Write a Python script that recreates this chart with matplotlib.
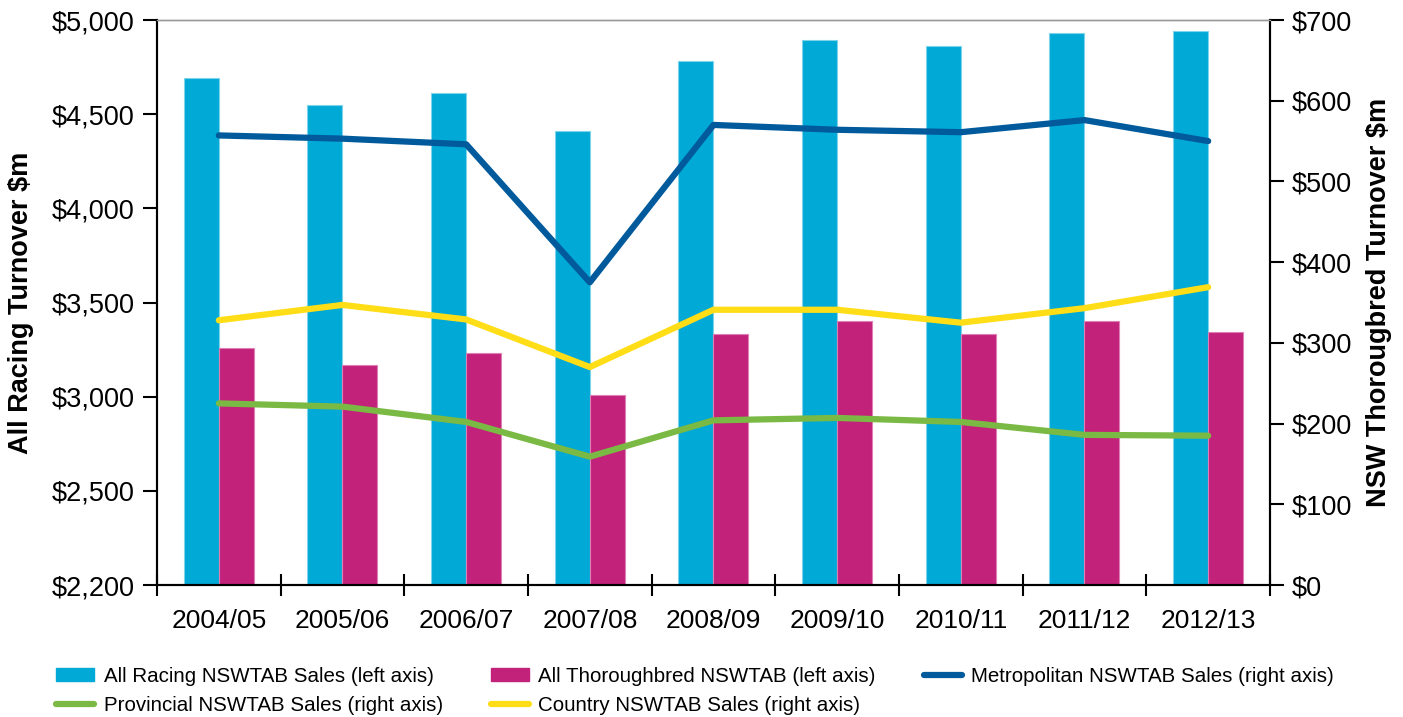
import numpy as np
import matplotlib
matplotlib.use('Agg')
import matplotlib.pyplot as plt
from matplotlib.lines import Line2D
from matplotlib.patches import Patch

plt.rcParams['font.family'] = ['Liberation Sans', 'DejaVu Sans']

# Данные
years = ['2004/05', '2005/06', '2006/07', '2007/08', '2008/09',
         '2009/10', '2010/11', '2011/12', '2012/13']
all_racing = [4690, 4548, 4612, 4410, 4782, 4894, 4862, 4931, 4941]
thoroughbred = [3261, 3170, 3234, 3011, 3335, 3404, 3335, 3404, 3346]
metro = [557, 553, 546, 375, 570, 564, 561, 576, 550]
country = [328, 347, 329, 270, 341, 341, 325, 343, 369]
provincial = [225, 221, 202, 159, 204, 207, 202, 186, 185]

left_ticks = [2000, 2500, 3000, 3500, 4000, 4500, 5000]
left_labels = ['$2,200', '$2,500', '$3,000', '$3,500', '$4,000', '$4,500', '$5,000']
right_ticks = [0, 100, 200, 300, 400, 500, 600, 700]

c_cyan = '#00A9D6'
c_mag = '#C2227A'
c_metro = '#005A9C'
c_green = '#7AB943'
c_yellow = '#FFDD17'

fig = plt.figure(figsize=(14.03, 7.17), dpi=100)
ax = fig.add_axes([0.1119, 0.1841, 0.9052 - 0.1119, 0.9721 - 0.1841])
ax2 = ax.twinx()

x = np.arange(len(years))
w = 0.283
ax.bar(x - w / 2, all_racing, w, color=c_cyan, edgecolor='#7FD3EA', linewidth=0.8)
ax.bar(x + w / 2, thoroughbred, w, color=c_mag, edgecolor='#E07FB5', linewidth=0.8)

lw = 4.5
ax2.plot(x, metro, color=c_metro, lw=lw, solid_capstyle='round')
ax2.plot(x, country, color=c_yellow, lw=lw, solid_capstyle='round')
ax2.plot(x, provincial, color=c_green, lw=lw, solid_capstyle='round')

ax.set_xlim(-0.5, len(years) - 0.5)
ax.set_ylim(2000, 5000)
ax2.set_ylim(0, 700)

ax.set_yticks(left_ticks)
ax.set_yticklabels(left_labels)
ax2.set_yticks(right_ticks)
ax2.set_yticklabels(['$%d' % v for v in right_ticks])

ax.set_xticks(x)
ax.set_xticklabels(years)
ax.set_xticks(np.arange(-0.5, len(years)), minor=True)
ax.tick_params(axis='x', which='major', length=0, labelsize=19, pad=17)
ax.tick_params(axis='x', which='minor', direction='inout', length=16, width=1.5)
ax.tick_params(axis='y', direction='out', length=10, width=1.5, labelsize=19.5, pad=6)
ax2.tick_params(axis='y', direction='out', length=10, width=1.5, labelsize=19.5, pad=6)

for a in (ax, ax2):
    a.spines['top'].set_color('#999999')
    a.spines['top'].set_linewidth(1)
    for s in ('left', 'right', 'bottom'):
        a.spines[s].set_linewidth(1.5)

ax.set_ylabel('All Racing Turnover $m', fontsize=19.5, fontweight='bold', labelpad=13)
ax2.set_ylabel('NSW Thorougbred Turnover $m', fontsize=19.5, fontweight='bold', labelpad=10)

handles = [
    Patch(color=c_cyan, label='All Racing NSWTAB Sales (left axis)'),
    Line2D([], [], color=c_green, lw=lw, solid_capstyle='round', label='Provincial NSWTAB Sales (right axis)'),
    Patch(color=c_mag, label='All Thoroughbred NSWTAB (left axis)'),
    Line2D([], [], color=c_yellow, lw=lw, solid_capstyle='round', label='Country NSWTAB Sales (right axis)'),
    Line2D([], [], color=c_metro, lw=lw, solid_capstyle='round', label='Metropolitan NSWTAB Sales (right axis)'),
]
fig.legend(handles=handles, loc='lower left', bbox_to_anchor=(0.027, -0.023), ncol=3,
           frameon=False, fontsize=14.8, handlelength=1.85, handleheight=0.6,
           columnspacing=2.35, labelspacing=0.5, handletextpad=0.45)

fig.savefig('out.png', dpi=100)
